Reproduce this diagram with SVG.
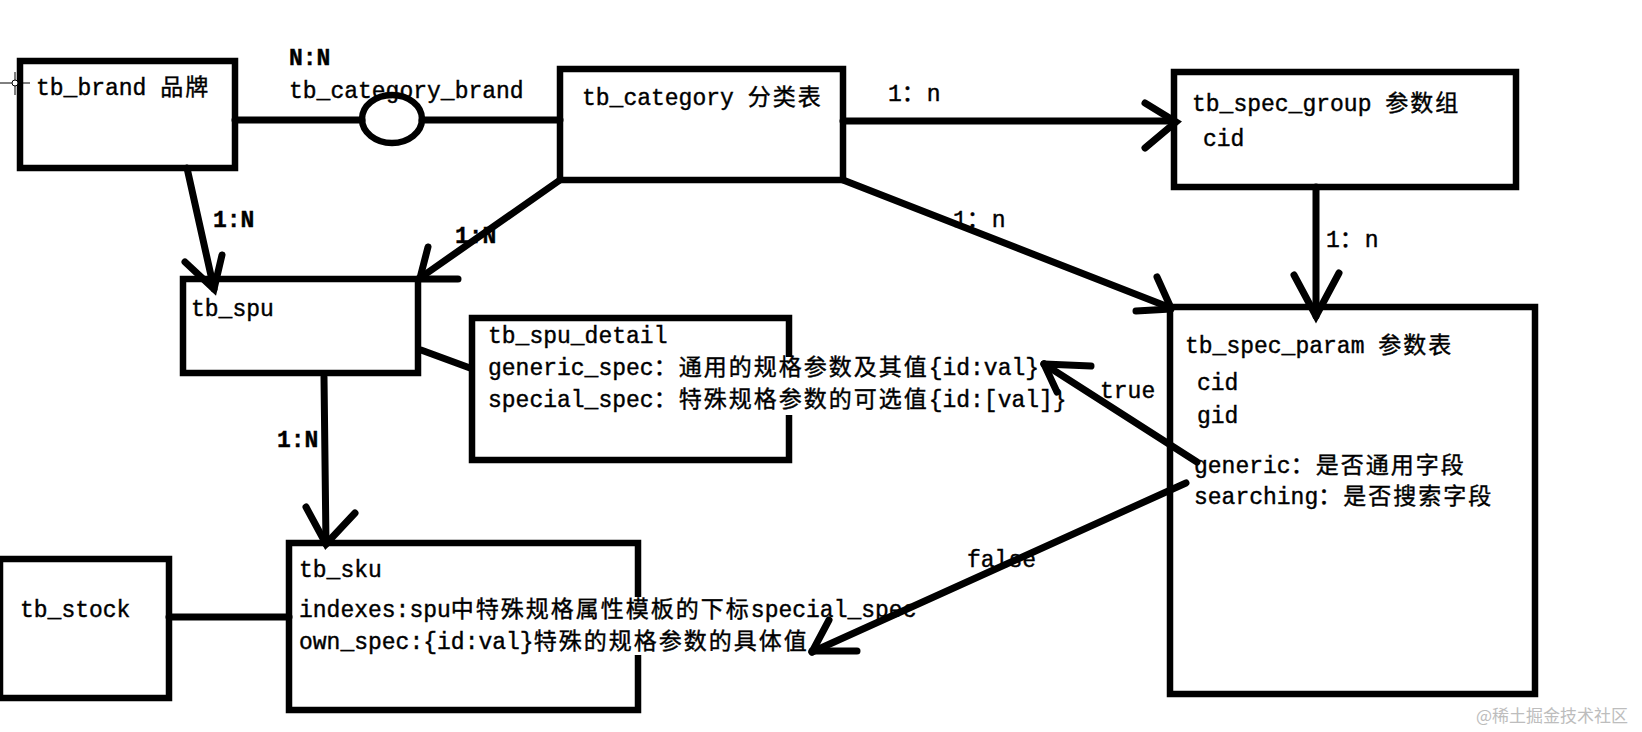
<svg xmlns="http://www.w3.org/2000/svg" width="1642" height="732" viewBox="0 0 1642 732">
<style>
.box{fill:#fff;stroke:#000;stroke-width:6.5}
.ln{stroke:#000;stroke-width:7;stroke-linecap:round;fill:none}
.t{font-family:"Liberation Mono","Noto Sans CJK SC",monospace;font-size:23px;fill:#000;stroke:#000;stroke-width:0.4}
.b{font-weight:bold}
.c{letter-spacing:2px}
.wm{font-family:"Noto Sans CJK SC","Liberation Sans",sans-serif;font-size:17px;fill:#bdbdbd}
</style>
<rect x="0" y="0" width="1642" height="732" fill="#fff"/>

<g id="tb_brand">
<rect class="box" x="20" y="61" width="215" height="107"/>
<text class="t" x="36" y="95">tb_brand <tspan class="c">品牌</tspan></text>
<g stroke="#000" stroke-width="1" fill="none">
<line x1="0" y1="83" x2="30" y2="83"/>
<line x1="15" y1="72" x2="15" y2="95"/>
<circle cx="15" cy="83" r="3" fill="#fff"/>
</g>
</g>

<g id="tb_category">
<rect class="box" x="560" y="69" width="283" height="111"/>
<text class="t" x="582" y="105">tb_category <tspan class="c">分类表</tspan></text>
</g>

<g id="tb_spec_group">
<rect class="box" x="1174" y="72" width="342" height="115"/>
<text class="t" x="1192" y="111">tb_spec_group <tspan class="c">参数组</tspan></text>
<text class="t" x="1203" y="146">cid</text>
</g>

<g id="tb_spec_param">
<rect class="box" x="1170" y="307" width="365" height="387"/>
<text class="t" x="1185" y="353">tb_spec_param <tspan class="c">参数表</tspan></text>
<text class="t" x="1197" y="390">cid</text>
<text class="t" x="1197" y="423">gid</text>
<text class="t" x="1194" y="473">generic<tspan class="c">：是否通用字段</tspan></text>
<text class="t" x="1194" y="504">searching<tspan class="c">：是否搜索字段</tspan></text>
</g>

<g id="tb_spu">
<rect class="box" x="183" y="279" width="235" height="94"/>
<text class="t" x="191" y="316">tb_spu</text>
</g>

<g id="tb_spu_detail">
<rect class="box" x="472" y="318" width="317" height="142"/>
<rect x="780" y="357" width="18" height="58" fill="#fff"/>
<text class="t" x="488" y="343">tb_spu_detail</text>
<text class="t" x="488" y="375">generic_spec<tspan class="c">：通用的规格参数及其值</tspan>{id:val}</text>
<text class="t" x="488" y="407">special_spec<tspan class="c">：特殊规格参数的可选值</tspan>{id:[val]}</text>
</g>

<g id="tb_sku">
<rect class="box" x="289" y="543" width="349" height="167"/>
<rect x="629" y="597" width="18" height="58" fill="#fff"/>
<text class="t" x="299" y="577">tb_sku</text>
<text class="t" x="299" y="617">indexes:spu<tspan class="c">中特殊规格属性模板的下标</tspan>special_spec</text>
<text class="t" x="299" y="649">own_spec:{id:val}<tspan class="c">特殊的规格参数的具体值</tspan></text>
</g>

<g id="tb_stock">
<rect class="box" x="0" y="559" width="169" height="139"/>
<text class="t" x="20" y="617">tb_stock</text>
</g>

<g id="tb_category_brand">
<text class="t b" x="289" y="65">N:N</text>
<text class="t" x="289" y="98">tb_category_brand</text>
</g>

<g id="connectors">
<line class="ln" x1="235" y1="120" x2="362" y2="120"/>
<ellipse cx="392" cy="119" rx="30" ry="24" fill="none" stroke="#000" stroke-width="6.5"/>
<line class="ln" x1="422" y1="120" x2="560" y2="120"/>

<line class="ln" x1="843" y1="121" x2="1174" y2="121"/>
<polyline class="ln" points="1145,103 1176,122 1145,148"/>
<text class="t" x="888" y="101">1<tspan class="c">：</tspan>n</text>

<line class="ln" x1="1316" y1="187" x2="1316" y2="316"/>
<polyline class="ln" points="1294,275 1316,316 1339,273"/>
<text class="t" x="1326" y="247">1<tspan class="c">：</tspan>n</text>

<line class="ln" x1="843" y1="180" x2="1171" y2="308"/>
<line class="ln" x1="1157" y1="277" x2="1171" y2="308"/>
<line class="ln" x1="1136" y1="311" x2="1171" y2="309"/>
<text class="t" x="953" y="227">1<tspan class="c">：</tspan>n</text>

<line class="ln" x1="187" y1="168" x2="214" y2="289"/>
<polyline class="ln" points="185,262 214,289 222,255"/>
<text class="t b" x="213" y="227">1:N</text>

<line class="ln" x1="560" y1="180" x2="420" y2="278"/>
<line class="ln" x1="428" y1="247" x2="420" y2="278"/>
<line class="ln" x1="418" y1="279" x2="458" y2="279"/>
<text class="t b" x="455" y="243">1:N</text>

<line class="ln" x1="421" y1="350" x2="470" y2="368"/>

<line class="ln" x1="324" y1="377" x2="326" y2="544"/>
<polyline class="ln" points="306,507 326,544 355,513"/>
<text class="t b" x="277" y="447">1:N</text>

<line class="ln" x1="169" y1="617" x2="289" y2="617"/>

<line class="ln" x1="1197" y1="462" x2="1044" y2="364"/>
<line class="ln" x1="1044" y1="364" x2="1091" y2="366"/>
<line class="ln" x1="1044" y1="364" x2="1057" y2="392"/>
<text class="t" x="1100" y="398">true</text>

<line class="ln" x1="1186" y1="483" x2="812" y2="652"/>
<line class="ln" x1="829" y1="620" x2="812" y2="652"/>
<line class="ln" x1="812" y1="651" x2="857" y2="651"/>
<text class="t" x="967" y="567">false</text>
</g>

<text class="wm" x="1476" y="722">@稀土掘金技术社区</text>
</svg>
